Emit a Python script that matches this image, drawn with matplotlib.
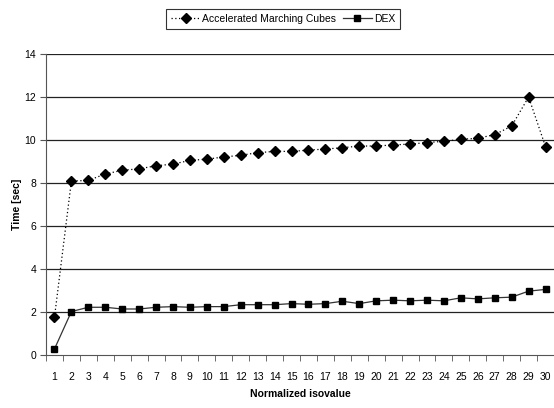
import matplotlib
matplotlib.use('Agg')
import matplotlib.pyplot as plt
import numpy as np

# values
isovalues = list(range(1, 31))
amc_times = [1.75, 8.09, 8.12, 8.42, 8.59, 8.66, 8.80, 8.88, 9.05, 9.11,
             9.21, 9.29, 9.41, 9.47, 9.47, 9.53, 9.58, 9.64, 9.72, 9.72,
             9.77, 9.81, 9.88, 9.94, 10.03, 10.08, 10.25, 10.65, 12.0, 9.69]
dex_times = [0.28, 2.02, 2.22, 2.22, 2.14, 2.14, 2.22, 2.25, 2.22, 2.25,
             2.25, 2.34, 2.34, 2.34, 2.39, 2.36, 2.39, 2.50, 2.39, 2.52,
             2.55, 2.52, 2.55, 2.52, 2.66, 2.61, 2.66, 2.69, 2.97, 3.05]
yticks = [0, 2, 4, 6, 8, 10, 12, 14]

plt.rcParams['font.family'] = ['Liberation Sans', 'DejaVu Sans']

fig = plt.figure(figsize=(5.54, 4.08), dpi=100)
ax = fig.add_axes([46 / 554, 53 / 408, 508 / 554, 301 / 408])

# horizontal grid lines
for y in yticks[1:]:
    ax.axhline(y, color='#222222', lw=0.9, zorder=1)

ax.plot(isovalues, amc_times, color='black', ls=(0, (1, 2)), lw=0.9,
        marker='D', ms=5, mfc='black', mec='black', zorder=3,
        label='Accelerated Marching Cubes')
ax.plot(isovalues, dex_times, color='#333333', ls='-', lw=0.9,
        marker='s', ms=4.5, mfc='black', mec='black', zorder=3,
        label='DEX')

ax.set_xlim(0.5, 30.5)
ax.set_ylim(0, 14)
ax.set_yticks(yticks)
ax.set_xticks(isovalues)
ax.set_xticks(np.arange(0.5, 31, 1), minor=True)
ax.tick_params(axis='x', which='major', length=0, labelsize=7.5, pad=12)
ax.tick_params(axis='x', which='minor', length=4, direction='out', color='#555555')
ax.tick_params(axis='y', length=4, direction='out', labelsize=7.5, color='#555555', pad=3)

for s in ['top', 'right']:
    ax.spines[s].set_visible(False)
ax.spines['left'].set_color('#555555')
ax.spines['bottom'].set_color('#555555')

ax.set_xlabel('Normalized isovalue', fontsize=7.5, fontweight='bold', labelpad=5)
ax.set_ylabel('Time [sec]', fontsize=7.5, fontweight='bold', labelpad=2)

leg = fig.legend(loc='upper center', bbox_to_anchor=(283 / 554, 1 - 4 / 408),
                 ncol=2, fontsize=7.5, frameon=True, fancybox=False,
                 edgecolor='black', handlelength=2.8, columnspacing=0.6,
                 handletextpad=0.2, borderpad=0.45)
leg.get_frame().set_linewidth(0.8)

plt.savefig('out.png', dpi=100)
